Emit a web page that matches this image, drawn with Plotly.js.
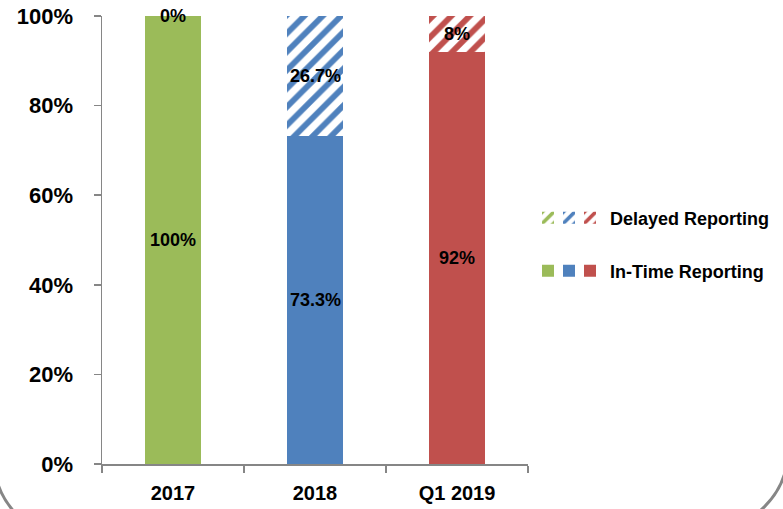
<!DOCTYPE html>
<html>
<head>
<meta charset="utf-8">
<script src="https://cdn.plot.ly/plotly-3.0.1.min.js"></script>
<style>html,body{margin:0;padding:0;background:#fff;}#chart{width:783px;height:509px;}</style>
</head>
<body>
<div id="chart"></div>
<script>
const categories = ['2017', '2018', 'Q1 2019'];
const inTime = [100, 73.3, 92];
const delayed = [0, 26.7, 8];
const inTimeLabels = ['100%', '73.3%', '92%'];
const delayedLabels = ['0%', '26.7%', '8%'];
const colors = ['#9BBB59', '#4F81BD', '#C0504D'];
const seriesNames = ['In-Time Reporting', 'Delayed Reporting'];
const yTicks = [0, 20, 40, 60, 80, 100];
const yTickLabels = ['0%', '20%', '40%', '60%', '80%', '100%'];

const FONT = 'Liberation Sans, Arial, sans-serif';
const W = 783, H = 509;
const M = {l: 102, r: 255, t: 16, b: 45};
const plotW = W - M.l - M.r, plotH = H - M.t - M.b;
const px = p => (p - M.l) / plotW;
const py = p => (H - M.b - p) / plotH;

const traces = [];
categories.forEach((c, i) => {
  traces.push({
    type: 'bar', x: [c], y: [inTime[i]], width: 0.4,
    name: i === 2 ? seriesNames[0] : '',
    legend: 'legend' + (i + 4),
    marker: {color: colors[i], line: {width: 0}},
    hoverinfo: 'skip'
  });
});
categories.forEach((c, i) => {
  traces.push({
    type: 'bar', x: [c], y: [delayed[i]], width: 0.4,
    name: i === 2 ? seriesNames[1] : '',
    legend: i === 0 ? 'legend' : 'legend' + (i + 1),
    marker: {color: colors[i], line: {width: 0},
      pattern: {shape: '/', fgcolor: colors[i], bgcolor: 'white', size: 13, solidity: 0.45}},
    hoverinfo: 'skip'
  });
});

const annotations = [];
categories.forEach((c, i) => {
  annotations.push({x: i, y: inTime[i] / 2, text: inTimeLabels[i], showarrow: false,
    font: {family: FONT, size: 18, color: '#000', weight: 'bold'}, xanchor: 'center', yanchor: 'middle'});
  annotations.push({x: i, y: inTime[i] + delayed[i] / 2, text: delayedLabels[i], showarrow: false,
    font: {family: FONT, size: 18, color: '#000', weight: 'bold'}, xanchor: 'center', yanchor: 'middle'});
});

const legendX = [548, 569, 590];
const rowY = [218, 271];
const legends = {};
function mkLegend(cx, cy) {
  return {xref: 'container', yref: 'container', x: (cx - 20) / W, y: 1 - cy / H,
    xanchor: 'left', yanchor: 'middle', bgcolor: 'rgba(0,0,0,0)', borderwidth: 0,
    font: {family: FONT, size: 18, color: '#000', weight: 'bold'}, itemclick: false, itemdoubleclick: false};
}
legends.legend = mkLegend(legendX[0], rowY[0]);
legends.legend2 = mkLegend(legendX[1], rowY[0]);
legends.legend3 = mkLegend(legendX[2], rowY[0]);
legends.legend4 = mkLegend(legendX[0], rowY[1]);
legends.legend5 = mkLegend(legendX[1], rowY[1]);
legends.legend6 = mkLegend(legendX[2], rowY[1]);

const f = (a, b) => px(a) + ',' + py(b);
const shapes = [
  {type: 'path', xref: 'paper', yref: 'paper', layer: 'above',
   path: 'M' + f(-6, 458.6) + ' C' + f(-6, 502.8) + ' ' + f(29.8, 538.6) + ' ' + f(74, 538.6),
   line: {color: '#868686', width: 3}},
  {type: 'path', xref: 'paper', yref: 'paper', layer: 'above',
   path: 'M' + f(788, 450) + ' C' + f(788, 494.2) + ' ' + f(752.2, 530) + ' ' + f(708, 530),
   line: {color: '#868686', width: 3}}
];

const layout = Object.assign({
  width: W, height: H,
  margin: {l: M.l, r: M.r, t: M.t, b: M.b, pad: 0, autoexpand: false},
  paper_bgcolor: '#fff', plot_bgcolor: '#fff',
  barmode: 'stack', showlegend: true,
  xaxis: {type: 'category', categoryorder: 'array', categoryarray: categories, range: [-0.5, 2.5], autorange: false,
    showline: true, linecolor: '#868686', linewidth: 1.5, showgrid: false, zeroline: false,
    ticks: 'outside', ticklen: 7, tickcolor: '#868686', tickwidth: 1.5, tickson: 'boundaries',
    ticklabelstandoff: 10, tickangle: 0,
    tickfont: {family: FONT, size: 20, color: '#000', weight: 'bold'}},
  yaxis: {range: [0, 100], autorange: false, tickmode: 'array', tickvals: yTicks, ticktext: yTickLabels,
    showline: true, linecolor: '#868686', linewidth: 1.5,
    showgrid: false, zeroline: false, ticks: 'outside', ticklen: 7, tickcolor: '#868686', tickwidth: 1.5,
    ticklabelstandoff: 16,
    tickfont: {family: FONT, size: 22, color: '#000', weight: 'bold'}},
  annotations: annotations,
  shapes: shapes
}, legends);

Plotly.newPlot('chart', traces, layout, {staticPlot: true, displayModeBar: false});
</script>
</body>
</html>
